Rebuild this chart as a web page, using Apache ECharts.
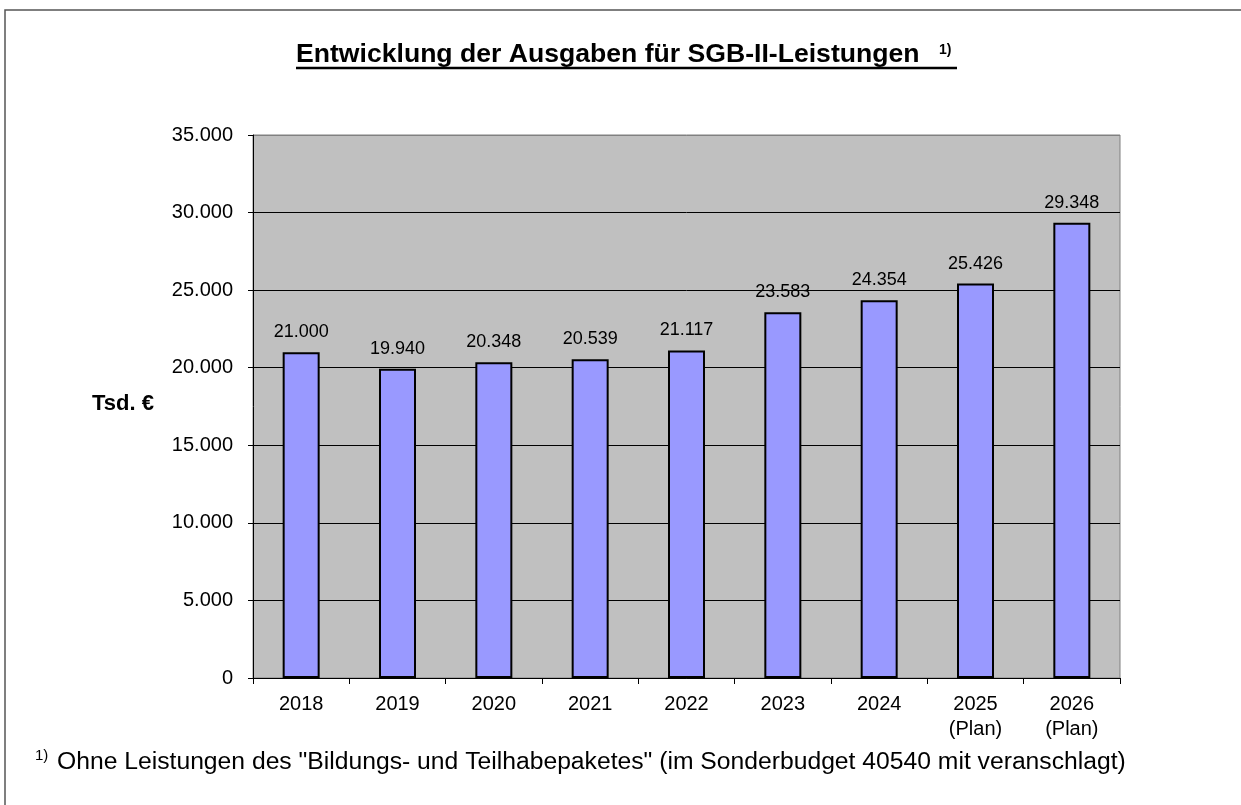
<!DOCTYPE html>
<html>
<head>
<meta charset="utf-8">
<style>
  html, body { margin: 0; padding: 0; background: #fff; }
  #chart { width: 1241px; height: 805px; }
</style>
<script src="https://cdn.jsdelivr.net/npm/echarts@6/dist/echarts.min.js"></script>
</head>
<body>
<div id="chart"></div>
<script>
// Daten
var years = ["2018", "2019", "2020", "2021", "2022", "2023", "2024", "2025\n(Plan)", "2026\n(Plan)"];
var ausgaben = [21000, 19940, 20348, 20539, 21117, 23583, 24354, 25426, 29348];
var titleText = "Entwicklung der Ausgaben für SGB-II-Leistungen";
var footnoteText = 'Ohne Leistungen des "Bildungs- und Teilhabepaketes" (im Sonderbudget 40540 mit veranschlagt)';

var FONT = "Liberation Sans, Arial, sans-serif";

// 1.000er-Punkte wie im Original
function fmt(v) {
  return String(v).replace(/\B(?=(\d{3})+(?!\d))/g, ".");
}

var myChart = echarts.init(document.getElementById("chart"));
myChart.setOption({
  animation: false,
  textStyle: { fontFamily: FONT },
  grid: {
    left: 253,
    right: 121,
    top: 135,
    bottom: 127,
    show: true,
    backgroundColor: "#C0C0C0",
    borderColor: "#808080",
    borderWidth: 1
  },
  xAxis: {
    type: "category",
    data: years,
    axisLine: { lineStyle: { color: "#000", width: 1 } },
    axisTick: { show: true, length: 6, lineStyle: { color: "#000" } },
    axisLabel: {
      color: "#000",
      fontSize: 20,
      lineHeight: 25,
      margin: 14
    }
  },
  yAxis: {
    type: "value",
    min: 0,
    max: 35000,
    interval: 5000,
    axisLine: { show: true, lineStyle: { color: "#000", width: 1 } },
    axisTick: { show: true, length: 5, lineStyle: { color: "#000" } },
    axisLabel: {
      color: "#000",
      fontSize: 20,
      margin: 20,
      formatter: fmt
    },
    splitLine: {
      lineStyle: {
        color: ["#000", "#000", "#000", "#000", "#000", "#000", "#000", "#808080"],
        width: 1
      }
    }
  },
  series: [
    {
      name: "Ausgaben",
      type: "bar",
      data: ausgaben,
      barWidth: 37,
      itemStyle: {
        color: "#9999FF",
        borderColor: "#000",
        borderWidth: 2
      },
      label: {
        show: true,
        position: "top",
        distance: 11,
        color: "#000",
        fontSize: 18,
        formatter: function (p) { return fmt(p.value); }
      }
    }
  ],
  graphic: [
    // Rahmen
    {
      type: "rect",
      shape: { x: 5, y: 10, width: 1300, height: 900 },
      style: { fill: "none", stroke: "#555", lineWidth: 1.5 },
      silent: true
    },
    // Titel
    {
      type: "text",
      left: 296,
      top: 41,
      style: {
        text: titleText,
        font: "bold 26.6px " + FONT,
        fill: "#000"
      }
    },
    {
      type: "text",
      left: 939,
      top: 43,
      style: {
        text: "1)",
        font: "bold 14px " + FONT,
        fill: "#000"
      }
    },
    {
      type: "line",
      shape: { x1: 296, y1: 68, x2: 957, y2: 68 },
      style: { stroke: "#000", lineWidth: 2.5 }
    },
    // Achsenname
    {
      type: "text",
      left: 92,
      top: 393,
      style: {
        text: "Tsd. €",
        font: "bold 22px " + FONT,
        fill: "#000"
      }
    },
    // Fußnote
    {
      type: "text",
      left: 35,
      top: 748,
      style: {
        text: "1)",
        font: "15px " + FONT,
        fill: "#000"
      }
    },
    {
      type: "text",
      left: 57,
      top: 750,
      style: {
        text: footnoteText,
        font: "24.7px " + FONT,
        fill: "#000"
      }
    }
  ]
});
</script>
</body>
</html>
